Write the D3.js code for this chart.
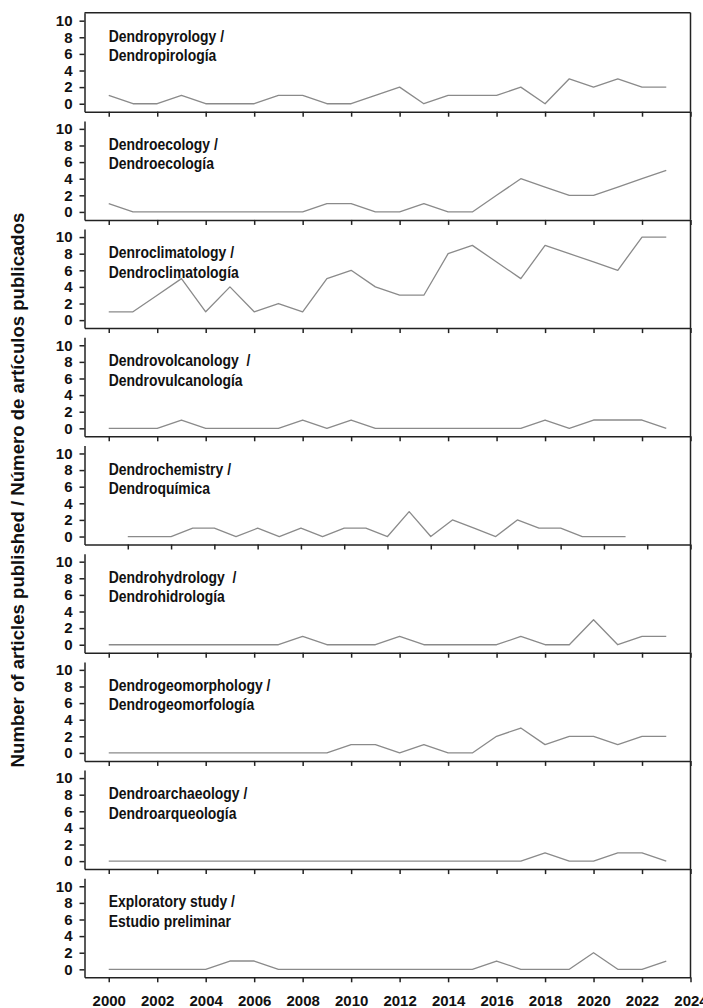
<!DOCTYPE html>
<html>
<head>
<meta charset="utf-8">
<script src="https://cdnjs.cloudflare.com/ajax/libs/d3/7.8.5/d3.min.js"></script>
<style>
    body { margin: 0; background: #fff; }
    svg { display: block; }
    .axis text { font-family: "Liberation Sans", Arial, sans-serif; font-weight: bold; font-size: 15px; fill: #111; }
    .axis path, .axis line { stroke: #222; stroke-width: 1.5; }
    .frame { stroke: #222; stroke-width: 1.5; }
</style>
</head>
<body>
<div id="chart"></div>
<script>
"use strict";

// Publication years (x) and tick labels
const years = [2000, 2001, 2002, 2003, 2004, 2005, 2006, 2007, 2008, 2009, 2010, 2011,
               2012, 2013, 2014, 2015, 2016, 2017, 2018, 2019, 2020, 2021, 2022, 2023];
const yearTicks = [2000, 2002, 2004, 2006, 2008, 2010, 2012, 2014, 2016, 2018, 2020, 2022, 2024];
const chemYearTicks = [2000, 2002, 2004, 2006, 2008, 2010, 2012, 2014, 2016, 2018, 2020, 2022, 2024, 2026];
const countTicks = [0, 2, 4, 6, 8, 10];

// Number of articles per year, one array per field
const pyrology      = [1, 0, 0, 1, 0, 0, 0, 1, 1, 0, 0, 1, 2, 0, 1, 1, 1, 2, 0, 3, 2, 3, 2, 2];
const ecology       = [1, 0, 0, 0, 0, 0, 0, 0, 0, 1, 1, 0, 0, 1, 0, 0, 2, 4, 3, 2, 2, 3, 4, 5];
const climatology   = [1, 1, 3, 5, 1, 4, 1, 2, 1, 5, 6, 4, 3, 3, 8, 9, 7, 5, 9, 8, 7, 6, 10, 10];
const volcanology   = [0, 0, 0, 1, 0, 0, 0, 0, 1, 0, 1, 0, 0, 0, 0, 0, 0, 0, 1, 0, 1, 1, 1, 0];
const chemistry     = [0, 0, 0, 1, 1, 0, 1, 0, 1, 0, 1, 1, 0, 3, 0, 2, 1, 0, 2, 1, 1, 0, 0, 0];
const hydrology     = [0, 0, 0, 0, 0, 0, 0, 0, 1, 0, 0, 0, 1, 0, 0, 0, 0, 1, 0, 0, 3, 0, 1, 1];
const geomorphology = [0, 0, 0, 0, 0, 0, 0, 0, 0, 0, 1, 1, 0, 1, 0, 0, 2, 3, 1, 2, 2, 1, 2, 2];
const archaeology   = [0, 0, 0, 0, 0, 0, 0, 0, 0, 0, 0, 0, 0, 0, 0, 0, 0, 0, 1, 0, 0, 1, 1, 0];
const exploratory   = [0, 0, 0, 0, 0, 1, 1, 0, 0, 0, 0, 0, 0, 0, 0, 0, 1, 0, 0, 0, 2, 0, 0, 1];

// Two-line panel titles (English / Spanish)
const titlesEn = ['Dendropyrology /', 'Dendroecology /', 'Denroclimatology /',
    'Dendrovolcanology  /', 'Dendrochemistry /', 'Dendrohydrology  /',
    'Dendrogeomorphology /', 'Dendroarchaeology /', 'Exploratory study /'];
const titlesEs = ['Dendropirología', 'Dendroecología', 'Dendroclimatología',
    'Dendrovulcanología', 'Dendroquímica', 'Dendrohidrología',
    'Dendrogeomorfología', 'Dendroarqueología', 'Estudio preliminar'];
const yTitle = 'Number of articles published / Número de artículos publicados';

const series = [pyrology, ecology, climatology, volcanology, chemistry,
                hydrology, geomorphology, archaeology, exploratory];

const W = 703, H = 1008;
const left = 84.5, right = 690.5;
const firstBottom = 111.7, pitch = 108.2, panelH = 99;

let svg = d3.select('#chart').append('svg')
    .attr('width', W)
    .attr('height', H);

// Common year scale; titles sit at 2000 on this one in every panel
let xMain = d3.scaleLinear().domain([1999, 2024]).range([left, right]);

series.forEach(function (values, i) {
    let bottom = firstBottom + i * pitch;
    // The chemistry panel was drawn with a wider year range
    let isChem = values === chemistry;
    let x = isChem ? d3.scaleLinear().domain([1998, 2026]).range([left, right]) : xMain;
    let y = d3.scaleLinear()
        .domain([-0.96, 10.96])
        .range([bottom, bottom - panelH]);

    let g = svg.append('g').classed('panel', true);

    let xAxis = d3.axisBottom(x)
        .tickValues(isChem ? chemYearTicks : yearTicks)
        .tickSize(5)
        .tickSizeOuter(0)
        .tickPadding(13)
        .tickFormat(i === series.length - 1 ? d3.format('d') : '');
    g.append('g')
        .classed('axis', true)
        .attr('transform', 'translate(0,' + bottom + ')')
        .call(xAxis);

    let yAxis = d3.axisLeft(y)
        .tickValues(countTicks)
        .tickSize(5)
        .tickSizeOuter(0)
        .tickPadding(7);
    g.append('g')
        .classed('axis', true)
        .attr('transform', 'translate(' + left + ',0)')
        .call(yAxis);

    // Right border runs through the gaps between panels; top only on first
    g.append('line')
        .classed('frame', true)
        .attr('x1', right).attr('x2', right)
        .attr('y1', i === 0 ? bottom - panelH : bottom - pitch)
        .attr('y2', bottom);
    if (i === 0) {
        g.append('line')
            .classed('frame', true)
            .attr('x1', left).attr('x2', right)
            .attr('y1', bottom - panelH).attr('y2', bottom - panelH);
    }

    let line = d3.line()
        .x(function (d, j) { return x(years[j]); })
        .y(function (d) { return y(d); });
    g.append('path')
        .datum(values)
        .attr('d', line)
        .attr('fill', 'none')
        .attr('stroke', '#8a8a8a')
        .attr('stroke-width', 1.3)
        .attr('stroke-linejoin', 'round');

    // Condensed bold title: Arial-metric font squeezed horizontally
    [titlesEn[i], titlesEs[i]].forEach(function (t, k) {
        g.append('text')
            .attr('transform', 'translate(' + xMain(2000) + ',' + (y(8) + 4.5 + 19.5 * k) + ') scale(0.82,1)')
            .style('font-family', '"Liberation Sans", Arial, sans-serif')
            .style('font-weight', 'bold')
            .style('font-size', '17px')
            .style('white-space', 'pre')
            .attr('fill', '#111')
            .text(t);
    });
});

svg.append('text')  // Shared y axis title
    .attr('transform', 'translate(24,' + 490 + ') rotate(-90)')
    .style('text-anchor', 'middle')
    .style('font-family', '"Liberation Sans", Arial, sans-serif')
    .style('font-weight', 'bold')
    .style('font-size', '18.6px')
    .attr('fill', '#111')
    .text(yTitle);
</script>
</body>
</html>
